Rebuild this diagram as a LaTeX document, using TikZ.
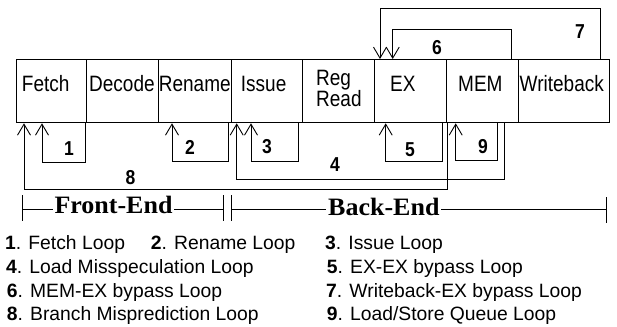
\documentclass[tikz,border=0pt]{standalone}
\usepackage{graphicx}
\usepackage{fontspec}
\setmainfont{Liberation Sans}
\newfontfamily\serifbold{Liberation Serif}
\usetikzlibrary{arrows.meta,calc}
\newcommand\bxt[1]{\scalebox{1}[1.17]{#1}}
\newcommand\lbt[1]{\scalebox{1}[1.15]{#1}}
\newcommand\sbt[1]{\scalebox{1.04}[1]{#1}}
\begin{document}
\begin{tikzpicture}[x=1pt,y=-1pt,
  stage/.style={draw, line width=1pt, minimum width=#1, minimum height=63.3pt,
    inner sep=0pt, anchor=north west},
  stagetext/.style={inner sep=0pt, anchor=base west, font=\fontsize{19}{20}\selectfont},
  loopline/.style={draw, line width=0.9pt, -{Straight Barb[length=11pt,width=13pt]}},
  looplabel/.style={inner sep=0pt, anchor=base, font=\fontsize{17.5}{18}\selectfont\bfseries},
  spanline/.style={draw, line width=0.9pt},
  spantext/.style={fill=white, inner xsep=2pt, inner ysep=0pt, anchor=base west,
    font=\fontsize{25}{26}\selectfont\serifbold\bfseries},
  legend/.style={inner sep=0pt, anchor=base west, font=\fontsize{19.3}{20}\selectfont}
]
\useasboundingbox (0,0) rectangle (617,326);

% pipeline stages
\node[stage=70.3pt] (fetch)   at (15.7,59) {};
\node[stage=72.3pt] (decode)  at (86,59) {};
\node[stage=72.7pt] (rename)  at (158.3,59) {};
\node[stage=71.3pt] (issue)   at (231,59) {};
\node[stage=71.7pt] (regread) at (302.3,59) {};
\node[stage=72pt]   (ex)      at (374,59) {};
\node[stage=72.3pt] (mem)     at (446,59) {};
\node[stage=91pt]   (wb)      at (518.3,59) {};

\node[stagetext] (tfetch)  at (21.7,91.7) {\bxt{Fetch}};
\node[stagetext] (tdecode) at (89,91.7)   {\bxt{Decode}};
\node[stagetext] (trename) at (158.7,91.7){\bxt{Rename}};
\node[stagetext] (tissue)  at (240.7,91.7){\bxt{Issue}};
\node[stagetext] (tregread) at (316,85)
  {\bxt{\begin{tabular}[t]{@{}l@{}}Reg\\[-2pt]Read\end{tabular}}};
\node[stagetext] (tex)     at (390,91.7)  {\bxt{EX}};
\node[stagetext] (tmem)    at (458,91.7)  {\bxt{MEM}};
\node[stagetext] (twb)     at (519.5,91.7){\bxt{Writeback}};

% loops below
\draw[loopline] ([xshift=-2pt]fetch.south east) -- ++(0,39) -| ([xshift=26.3pt]fetch.south west);
\draw[loopline] ([xshift=-3.3pt]rename.south east) -- ++(0,38) -| ([xshift=13.7pt]rename.south west);
\draw[loopline] ([xshift=-5.3pt]issue.south east) -- ++(0,38) -| ([xshift=20pt]issue.south west);
\draw[loopline] ([xshift=58pt]mem.south west) -- ++(0,55.7) -| ([xshift=5.7pt]issue.south west);
\draw[loopline] ([xshift=-5pt]ex.south east) -- ++(0,38.5) -| ([xshift=11.7pt]ex.south west);
\draw[loopline] ([xshift=51pt]mem.south west) -- ++(0,37) -| ([xshift=9.7pt]mem.south west);
\draw[loopline] (ex.south east) -- ++(0,66) -| ([xshift=8.3pt]fetch.south west);
% loops above
\draw[loopline] ([xshift=-8.3pt]mem.north east) -- ++(0,-30) -| ([xshift=18.7pt]ex.north west);
\draw[loopline] ([xshift=-10.3pt]wb.north east) -- ++(0,-51) -| ([xshift=6pt]ex.north west);

% loop labels
\node[looplabel] (l1) at (69,155)    {\lbt{1}};
\node[looplabel] (l2) at (190,154)   {\lbt{2}};
\node[looplabel] (l3) at (267,153)   {\lbt{3}};
\node[looplabel] (l4) at (335,171.7) {\lbt{4}};
\node[looplabel] (l5) at (410,156)   {\lbt{5}};
\node[looplabel] (l6) at (437,55)    {\lbt{6}};
\node[looplabel] (l7) at (580,38.3)  {\lbt{7}};
\node[looplabel] (l8) at (130.5,184) {\lbt{8}};
\node[looplabel] (l9) at (483,153.3) {\lbt{9}};

% front-end / back-end spans
\draw[spanline] (22.3,209.5) -- (223.3,209.5);
\draw[spanline] (22.3,195) -- (22.3,221);
\draw[spanline] (223.3,195) -- (223.3,221);
\draw[spanline] (231.7,209.5) -- (606,209.5);
\draw[spanline] (231.7,195) -- (231.7,221);
\draw[spanline] (606,197) -- (606,223);
\node[spantext] (front) at (52.3,213.7) {\sbt{Front-End}};
\node[spantext] (back)  at (326,215.5)  {\sbt{Back-End}};

% legend
\node[legend] (k1) at (5,249.3)     {\textbf{1}. Fetch Loop};
\node[legend] (k2) at (150.7,249.3) {\textbf{2}. Rename Loop};
\node[legend] (k3) at (325,249.3)   {\textbf{3}. Issue Loop};
\node[legend] (k4) at (6,273.3)     {\textbf{4}. Load Misspeculation Loop};
\node[legend] (k5) at (326.7,273.3) {\textbf{5}. EX-EX bypass Loop};
\node[legend] (k6) at (6.7,297.5)   {\textbf{6}. MEM-EX bypass Loop};
\node[legend] (k7) at (326,297.5)   {\textbf{7}. Writeback-EX bypass Loop};
\node[legend] (k8) at (6.7,320.7)   {\textbf{8}. Branch Misprediction Loop};
\node[legend] (k9) at (326.7,320.7) {\textbf{9}. Load/Store Queue Loop};
\end{tikzpicture}
\end{document}
